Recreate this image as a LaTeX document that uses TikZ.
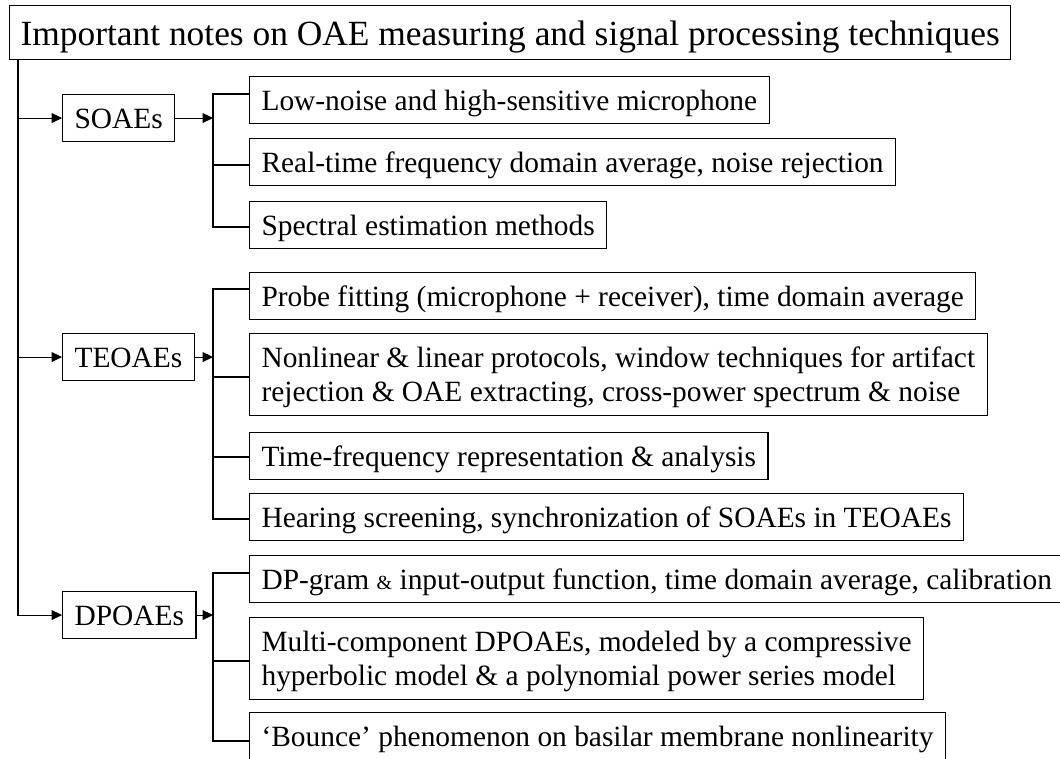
\documentclass[tikz,border=0pt]{standalone}
\usepackage{fontspec}
\setmainfont{Liberation Serif}
\usetikzlibrary{arrows.meta,calc}

% vertical struts for two-line boxes
\newcommand\topstr[1]{\rule{0pt}{#1}}
\newcommand\botstr[1]{\rule[-#1]{0pt}{#1}}
\newcommand\smallamp{{\fontsize{20}{24}\selectfont\&}}

\begin{document}
\begin{tikzpicture}[x=1pt,y=-1pt,
  line width=1.1pt,
  box/.style={draw=black, anchor=north west, inner xsep=12pt, inner ysep=0pt,
    font=\fontsize{29.4}{34}\selectfont},
  onebox/.style={box, text height=34pt, text depth=13pt},
  twobox/.style={box, align=left},
  headbox/.style={draw=black, anchor=north west, inner xsep=11pt, inner ysep=0pt,
    text height=40pt, text depth=14pt, font=\fontsize{35.4}{40}\selectfont},
  arr/.style={-{Triangle[length=10.5pt,width=10pt]}},
  wire/.style={-}
]
\useasboundingbox (0,0) rectangle (1060,758);
\clip (0,0) rectangle (1060,758);

% heading
\node[headbox] (title) at (9,5) {Important notes on OAE measuring and signal processing techniques};

% three OAE types
\node[onebox] (soae) at (62,94)  {SOAEs};
\node[onebox] (teoae) at (62,333) {TEOAEs};
\node[onebox] (dpoae) at (62,591) {DPOAEs};

% SOAE notes
\node[onebox] (s1) at (249,76)  {Low-noise and high-sensitive microphone};
\node[onebox] (s2) at (249,138) {Real-time frequency domain average, noise rejection};
\node[onebox] (s3) at (249,201) {Spectral estimation methods};

% TEOAE notes
\node[onebox] (t1) at (249,272) {Probe fitting (microphone + receiver), time domain average};
\node[twobox] (t2) at (249,333) {\topstr{33.5pt}Nonlinear \& linear protocols, window techniques for artifact\\
  rejection \& OAE extracting, cross-power spectrum \& noise\botstr{14.5pt}};
\node[onebox] (t3) at (249,432) {Time-frequency representation \& analysis};
\node[onebox] (t4) at (249,493) {Hearing screening, synchronization of SOAEs in TEOAEs};

% DPOAE notes
\node[onebox] (d1) at (249,555) {DP-gram \smallamp{} input-output function, time domain average, calibration};
\node[twobox] (d2) at (249,617) {\topstr{33.5pt}Multi-component DPOAEs, modeled by a compressive\\
  hyperbolic model \& a polynomial power series model\botstr{14.5pt}};
\node[onebox] (d3) at (249,712) {‘Bounce’ phenomenon on basilar membrane nonlinearity};

% trunk and branch buses
\coordinate (trunk) at (18,0);
\coordinate (bus) at (213,0);

% connector entry points on the notes
\coordinate (ps1) at ($(s1.north west)+(0,18)$);
\coordinate (ps2) at ($(s2.north west)+(0,27)$);
\coordinate (ps3) at ($(s3.north west)+(0,26)$);
\coordinate (pt1) at ($(t1.north west)+(0,17)$);
\coordinate (pt2) at ($(t2.north west)+(0,44)$);
\coordinate (pt3) at ($(t3.north west)+(0,25)$);
\coordinate (pt4) at ($(t4.north west)+(0,26)$);
\coordinate (pd1) at ($(d1.north west)+(0,18)$);
\coordinate (pd2) at ($(d2.north west)+(0,44)$);
\coordinate (pd3) at ($(d3.north west)+(0,29)$);

% heading to the three types
\draw[arr] (trunk |- title.south) |- (dpoae.west);
\draw[arr] (trunk |- soae.west) -- (soae.west);
\draw[arr] (trunk |- teoae.west) -- (teoae.west);

% types to their buses
\draw[arr] (soae.east) -- (soae.east -| bus);
\draw[arr] (teoae.east) -- (teoae.east -| bus);
\draw[arr] (dpoae.east) -- (dpoae.east -| bus);

% buses to the notes
\draw[wire] (ps1) -| (ps3 -| bus) -- (ps3);
\draw[wire] (ps2 -| bus) -- (ps2);
\draw[wire] (pt1) -| (pt4 -| bus) -- (pt4);
\draw[wire] (pt2 -| bus) -- (pt2);
\draw[wire] (pt3 -| bus) -- (pt3);
\draw[wire] (pd1) -| (pd3 -| bus) -- (pd3);
\draw[wire] (pd2 -| bus) -- (pd2);
\end{tikzpicture}
\end{document}
